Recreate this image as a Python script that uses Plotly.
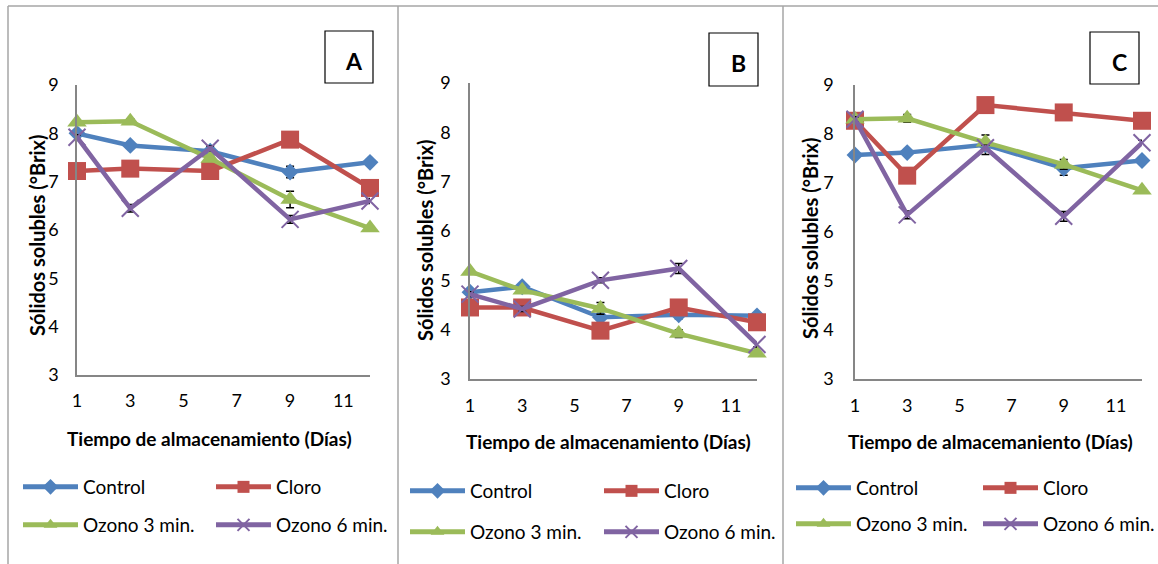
import plotly.graph_objects as go

W, H = 1158, 564

# ---------------- data ----------------
days = [1, 3, 6, 9, 12]
series_names = ["Control", "Cloro", "Ozono 3 min.", "Ozono 6 min."]
x_ticks = [1, 3, 5, 7, 9, 11]
y_ticks = [3, 4, 5, 6, 7, 8, 9]
panel_letters = ["A", "B", "C"]

A_control = [8.00, 7.75, 7.63, 7.20, 7.40]
A_cloro = [7.22, 7.27, 7.22, 7.87, 6.87]
A_ozono3 = [8.23, 8.25, 7.48, 6.63, 6.04]
A_ozono6 = [7.92, 6.45, 7.69, 6.22, 6.60]

B_control = [4.76, 4.87, 4.25, 4.30, 4.28]
B_cloro = [4.45, 4.45, 3.98, 4.45, 4.15]
B_ozono3 = [5.18, 4.80, 4.43, 3.92, 3.52]
B_ozono6 = [4.72, 4.42, 5.00, 5.24, 3.70]

C_control = [7.57, 7.62, 7.78, 7.30, 7.46]
C_cloro = [8.27, 7.15, 8.59, 8.44, 8.27]
C_ozono3 = [8.30, 8.32, 7.83, 7.38, 6.85]
C_ozono6 = [8.30, 6.35, 7.72, 6.32, 7.82]

A_control_err = [0.05, 0.05, 0.05, 0.12, 0.05]
A_cloro_err = [0.05, 0.05, 0.05, 0.05, 0.05]
A_ozono3_err = [0.05, 0.05, 0.05, 0.17, 0.05]
A_ozono6_err = [0.05, 0.08, 0.05, 0.08, 0.05]

B_control_err = [0.05, 0.05, 0.05, 0.08, 0.05]
B_cloro_err = [0.05, 0.05, 0.05, 0.05, 0.05]
B_ozono3_err = [0.05, 0.05, 0.12, 0.08, 0.05]
B_ozono6_err = [0.05, 0.05, 0.05, 0.1, 0.05]

C_control_err = [0.05, 0.05, 0.20, 0.14, 0.05]
C_cloro_err = [0.05, 0.05, 0.05, 0.05, 0.05]
C_ozono3_err = [0.05, 0.08, 0.05, 0.10, 0.05]
C_ozono6_err = [0.05, 0.08, 0.05, 0.10, 0.05]

panels = [
    [A_control, A_cloro, A_ozono3, A_ozono6],
    [B_control, B_cloro, B_ozono3, B_ozono6],
    [C_control, C_cloro, C_ozono3, C_ozono6],
]
panel_errs = [
    [A_control_err, A_cloro_err, A_ozono3_err, A_ozono6_err],
    [B_control_err, B_cloro_err, B_ozono3_err, B_ozono6_err],
    [C_control_err, C_cloro_err, C_ozono3_err, C_ozono6_err],
]
x_titles = [
    "Tiempo de almacenamiento (Días)",
    "Tiempo de almacenamiento (Días)",
    "Tiempo de almacemaniento (Días)",
]
y_title = "Sólidos solubles (°Brix)"

# ---------------- styles ----------------
colors = ["#4F81BD", "#C0504D", "#9BBB59", "#8064A2"]
symbols = ["diamond", "square", "triangle-up", "x-thin"]
msizes = [13, 18, 17, 17]
FONT = "Lato, 'Open Sans', sans-serif"
AXIS_COLOR = "#868686"
BORDER_COLOR = "#a6a6a6"

# pixel geometry of plot areas: (x_left, x_right, y_top, y_bottom)
geom = [(77, 370, 85, 375), (470, 757, 83, 379), (855, 1142, 85, 379)]
# legend geometry: (x_start, col_spacing, row1_y, row2_y)
leg_geom = [(18, 192, 487, 525), (405, 193, 491, 532), (791, 186, 488, 524)]
ytitle_pos = [(37, 236), (425, 241), (810, 239)]
xtitle_pos = [(209, 438), (608, 441), (990, 441)]
ystandoff = [13, 14, 16]
xstandoff = [9, 10, 10]
letter_box = [(325, 373, 31, 83), (709, 758, 33, 86), (1090, 1139, 32, 84)]


def px(x):
    return x / W


def py(y):
    return 1 - y / H


fig = go.Figure()
layout = {}
shapes = []
annotations = []

legend_counter = 0
for p in range(3):
    xl, xr, yt, yb = geom[p]
    xa = "xaxis" if p == 0 else f"xaxis{p+1}"
    ya = "yaxis" if p == 0 else f"yaxis{p+1}"
    xref = "x" if p == 0 else f"x{p+1}"
    yref = "y" if p == 0 else f"y{p+1}"
    layout[xa] = dict(
        domain=[px(xl), px(xr)], range=[1, 12], anchor=yref,
        tickvals=x_ticks, ticktext=[str(v) for v in x_ticks],
        showgrid=False, zeroline=False, showline=True, linecolor=AXIS_COLOR, linewidth=1.5,
        ticks="", tickfont=dict(family=FONT, size=18, color="#000"),
        ticklabelstandoff=xstandoff[p], fixedrange=True, automargin=False,
    )
    layout[ya] = dict(
        domain=[py(yb), py(yt)], range=[3, 9], anchor=xref,
        tickvals=y_ticks, ticktext=[str(v) for v in y_ticks],
        showgrid=False, zeroline=False, showline=True, linecolor=AXIS_COLOR, linewidth=1.5,
        ticks="", tickfont=dict(family=FONT, size=18, color="#000"),
        ticklabelstandoff=ystandoff[p], fixedrange=True, automargin=False,
    )
    # legends: two rows per panel
    lx, lsp, r1, r2 = leg_geom[p]
    leg_names = []
    for r, ry in enumerate([r1, r2]):
        legend_counter += 1
        lname = "legend" if legend_counter == 1 else f"legend{legend_counter}"
        leg_names.append(lname)
        layout[lname] = dict(
            x=px(lx), y=py(ry), xanchor="left", yanchor="middle",
            orientation="h", entrywidth=lsp - 69, entrywidthmode="pixels",
            itemwidth=55, bgcolor="rgba(0,0,0,0)", borderwidth=0,
            font=dict(family=FONT, size=19, color="#000"),
            tracegroupgap=0, itemsizing="constant",
        )
    for s in range(4):
        fig.add_trace(go.Scatter(
            x=days, y=panels[p][s], name=series_names[s],
            xaxis=xref, yaxis=yref, mode="lines+markers",
            line=dict(color=colors[s], width=4.5),
            marker=dict(symbol=symbols[s], size=msizes[s], color=colors[s],
                        line=dict(color=colors[s], width=2 if s == 3 else 0)),
            error_y=dict(type="data", array=panel_errs[p][s], color="#000",
                         thickness=1.5, width=4),
            legend=leg_names[s // 2],
            showlegend=True, cliponaxis=False,
        ))
    # axis titles
    annotations.append(dict(
        x=px(ytitle_pos[p][0]), y=py(ytitle_pos[p][1]), xref="paper", yref="paper",
        text=f"<b>{y_title}</b>", textangle=-90, showarrow=False,
        xanchor="center", yanchor="middle",
        font=dict(family=FONT, size=20, color="#000"),
    ))
    annotations.append(dict(
        x=px(xtitle_pos[p][0]), y=py(xtitle_pos[p][1]), xref="paper", yref="paper",
        text=f"<b>{x_titles[p]}</b>", showarrow=False,
        xanchor="center", yanchor="middle",
        font=dict(family=FONT, size=19, color="#000"),
    ))
    # letter box
    bx0, bx1, by0, by1 = letter_box[p]
    shapes.append(dict(type="rect", xref="paper", yref="paper",
                       x0=px(bx0), x1=px(bx1), y0=py(by1), y1=py(by0),
                       line=dict(color="#000", width=1.2), fillcolor="white"))
    annotations.append(dict(
        x=px((bx0 + bx1) / 2 + 5), y=py((by0 + by1) / 2 + 4), xref="paper", yref="paper",
        text=f"<b>{panel_letters[p]}</b>", showarrow=False,
        xanchor="center", yanchor="middle",
        font=dict(family=FONT, size=23, color="#000"),
    ))

# panel borders
shapes.append(dict(type="line", xref="paper", yref="paper", x0=px(8), x1=1, y0=py(6), y1=py(6),
                   line=dict(color=BORDER_COLOR, width=1.5)))
for bx in [8, 398, 783]:
    shapes.append(dict(type="line", xref="paper", yref="paper", x0=px(bx), x1=px(bx), y0=0, y1=py(6),
                       line=dict(color=BORDER_COLOR, width=1.5)))

fig.update_layout(
    width=W, height=H, margin=dict(l=0, r=0, t=0, b=0, pad=0, autoexpand=False),
    paper_bgcolor="white", plot_bgcolor="white",
    shapes=shapes, annotations=annotations, **layout,
)

fig.write_html(
    "out.html",
    config={"displayModeBar": False},
    post_script="document.body.style.margin='0';document.body.style.overflow='hidden';",
)
